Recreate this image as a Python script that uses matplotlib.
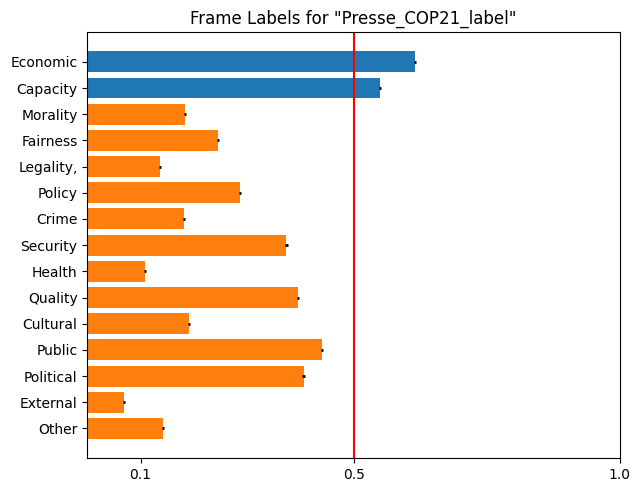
import numpy as np
import matplotlib
matplotlib.use("Agg")
import matplotlib.pyplot as plt

labels = ["Economic", "Capacity", "Morality", "Fairness", "Legality,", "Policy",
          "Crime", "Security", "Health", "Quality", "Cultural", "Public",
          "Political", "External", "Other"]
values = [0.615, 0.549, 0.184, 0.246, 0.137, 0.287, 0.182, 0.374, 0.109,
          0.395, 0.191, 0.440, 0.406, 0.069, 0.142]
errors = [0.002] * 15
highlight = ["Economic", "Capacity"]
threshold = 0.5

fig, ax = plt.subplots(figsize=(6.41, 4.92), dpi=100)
y = np.arange(len(labels))[::-1]
colors = ["C0" if l in highlight else "C1" for l in labels]
ax.barh(y, values, xerr=errors, color=colors, ecolor="black",
        error_kw=dict(lw=2))
ax.axvline(threshold, color="red")
ax.set_yticks(y)
ax.set_yticklabels(labels)
ax.set_xlim(0, 1)
ax.set_xticks([0.1, 0.5, 1.0])
ax.set_xticklabels(["0.1", "0.5", "1.0"])
ax.set_title('Frame Labels for "Presse_COP21_label"')
fig.subplots_adjust(left=0.1362, right=0.967, top=0.935, bottom=0.0685)
plt.savefig("out.png")
